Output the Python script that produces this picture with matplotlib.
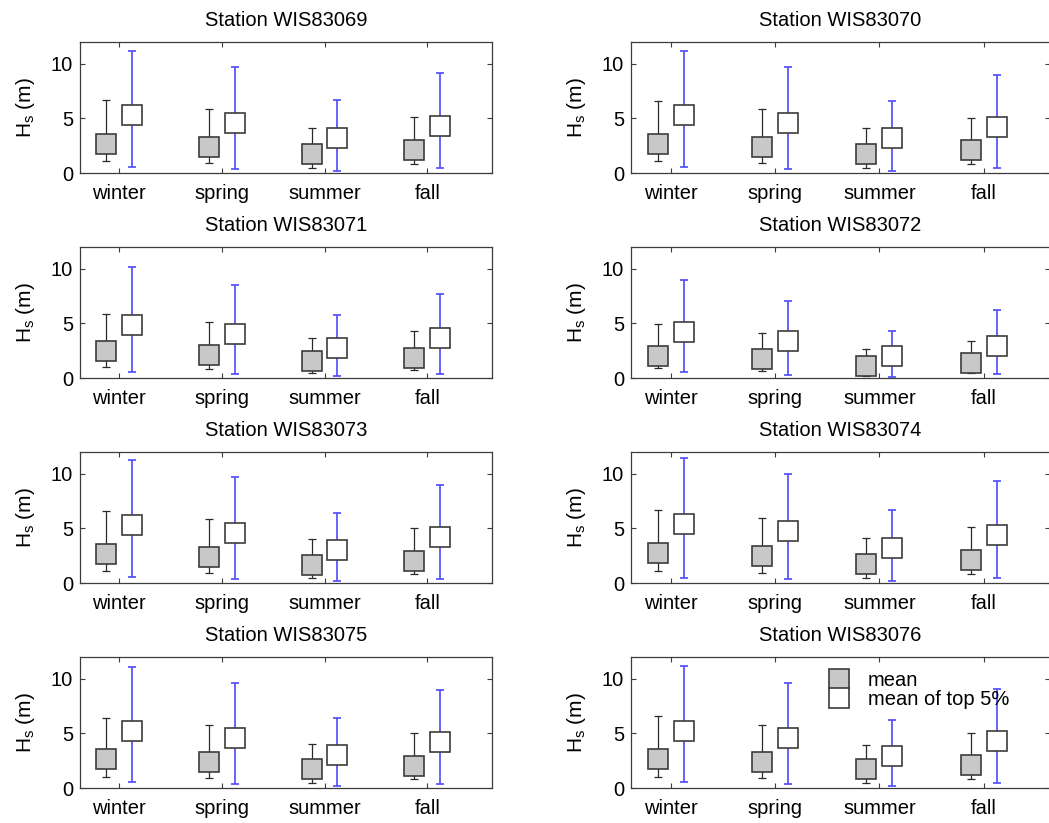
import matplotlib
matplotlib.use("Agg")
import matplotlib.pyplot as plt
from matplotlib.lines import Line2D

plt.rcParams['font.family'] = ['Liberation Sans', 'DejaVu Sans']
plt.rcParams['mathtext.default'] = 'regular'

stations = ["WIS83069", "WIS83070", "WIS83071", "WIS83072",
            "WIS83073", "WIS83074", "WIS83075", "WIS83076"]
seasons = ["winter", "spring", "summer", "fall"]

# mean Hs (box centre), min and max (whiskers) per season
mean_val = [[2.71, 2.43, 1.78, 2.10], [2.71, 2.43, 1.78, 2.10],
            [2.46, 2.17, 1.58, 1.82], [2.02, 1.73, 1.14, 1.38],
            [2.69, 2.42, 1.70, 2.07], [2.75, 2.46, 1.79, 2.13],
            [2.64, 2.42, 1.75, 2.07], [2.69, 2.42, 1.72, 2.08]]
mean_min = [[1.09, 0.94, 0.52, 0.85], [1.09, 0.94, 0.52, 0.82],
            [1.00, 0.85, 0.49, 0.76], [0.94, 0.70, 0.20, 0.46],
            [1.09, 0.91, 0.52, 0.85], [1.12, 0.94, 0.52, 0.85],
            [1.06, 0.91, 0.52, 0.82], [1.06, 0.91, 0.52, 0.85]]
mean_max = [[6.69, 5.87, 4.10, 5.11], [6.60, 5.87, 4.16, 5.08],
            [5.90, 5.17, 3.65, 4.35], [4.98, 4.13, 2.71, 3.37],
            [6.63, 5.87, 4.04, 5.05], [6.69, 5.96, 4.16, 5.14],
            [6.44, 5.81, 4.04, 5.05], [6.57, 5.81, 3.98, 5.08]]

# mean of top 5% Hs (box centre), min and max (whiskers)
top_val = [[5.32, 4.62, 3.21, 4.30], [5.32, 4.62, 3.21, 4.26],
           [4.83, 4.06, 2.74, 3.63], [4.26, 3.42, 2.04, 2.92],
           [5.35, 4.60, 3.07, 4.26], [5.40, 4.73, 3.18, 4.41],
           [5.23, 4.59, 3.04, 4.22], [5.24, 4.59, 2.98, 4.27]]
top_min = [[0.55, 0.40, 0.24, 0.46], [0.55, 0.40, 0.24, 0.46],
           [0.55, 0.36, 0.21, 0.40], [0.55, 0.30, 0.15, 0.36],
           [0.55, 0.40, 0.24, 0.43], [0.52, 0.40, 0.21, 0.46],
           [0.55, 0.40, 0.24, 0.43], [0.55, 0.43, 0.24, 0.46]]
top_max = [[11.19, 9.73, 6.69, 9.12], [11.16, 9.67, 6.63, 8.97],
           [10.18, 8.51, 5.74, 7.72], [9.00, 7.08, 4.32, 6.23],
           [11.25, 9.67, 6.44, 9.00], [11.43, 9.97, 6.66, 9.30],
           [11.06, 9.64, 6.38, 8.97], [11.16, 9.64, 6.26, 9.06]]

W, H = 1049, 823
fig = plt.figure(figsize=(W / 100, H / 100), dpi=100)

col_left = [80 / W, 631 / W]
col_width = [412 / W, 418.5 / W]
row_bottom_px = [173.3, 378.3, 583.3, 788.3]
ax_h = 131.6 / H

edge_c = '#3c3c3c'
gray_fill = '#c8c8c8'
blue = '#4a4aff'
fs = 14.5
ms = 14.8
x = list(range(1, 5))
off = 0.125

for i, st in enumerate(stations):
    r, c = divmod(i, 2)
    ax = fig.add_axes([col_left[c], 1 - row_bottom_px[r] / H, col_width[c], ax_h])
    xg = [v - off for v in x]
    xw = [v + off for v in x]
    mv, mn, mx = mean_val[i], mean_min[i], mean_max[i]
    tv, tn, tx = top_val[i], top_min[i], top_max[i]
    ax.errorbar(xg, mv, yerr=[[a - b for a, b in zip(mv, mn)], [b - a for a, b in zip(mv, mx)]],
                fmt='none', ecolor='#2a2a2a', elinewidth=0.9, capsize=2.8, capthick=0.9, zorder=2)
    ax.errorbar(xw, tv, yerr=[[a - b for a, b in zip(tv, tn)], [b - a for a, b in zip(tv, tx)]],
                fmt='none', ecolor=blue, elinewidth=1.2, capsize=2.8, capthick=1.2, zorder=2)
    ax.plot(xg, mv, 's', ms=ms, mfc=gray_fill, mec=edge_c, mew=1.2, zorder=3)
    ax.plot(xw, tv, 's', ms=ms, mfc='white', mec=edge_c, mew=1.2, zorder=3)

    ax.set_xlim(0.62, 4.63)
    ax.set_ylim(0, 12)
    ax.set_xticks(x)
    ax.set_xticklabels(seasons)
    ax.set_yticks([0, 5, 10])
    ax.tick_params(direction='in', length=3.5, width=0.8, color=edge_c,
                   top=True, right=True, labelsize=fs, pad=5)
    ax.tick_params(axis='x', pad=8)
    for sp in ax.spines.values():
        sp.set_color(edge_c)
        sp.set_linewidth(0.9)
    ax.set_ylabel(r'H$_s$ (m)', fontsize=fs + 0.5, labelpad=10)
    ax.set_title('Station ' + st, fontsize=fs, pad=11)

    if i == len(stations) - 1:
        handles = [Line2D([], [], ls='none', marker='s', ms=ms, mfc=gray_fill, mec=edge_c, mew=1.2),
                   Line2D([], [], ls='none', marker='s', ms=ms, mfc='white', mec=edge_c, mew=1.2)]
        ax.legend(handles, ['mean', 'mean of top 5%'], loc='upper left',
                  bbox_to_anchor=(0.44, 1.0), frameon=False, fontsize=fs,
                  labelspacing=0.0, handlelength=1.0, handletextpad=0.9,
                  borderpad=0.2)

fig.savefig('out.png', dpi=100)
